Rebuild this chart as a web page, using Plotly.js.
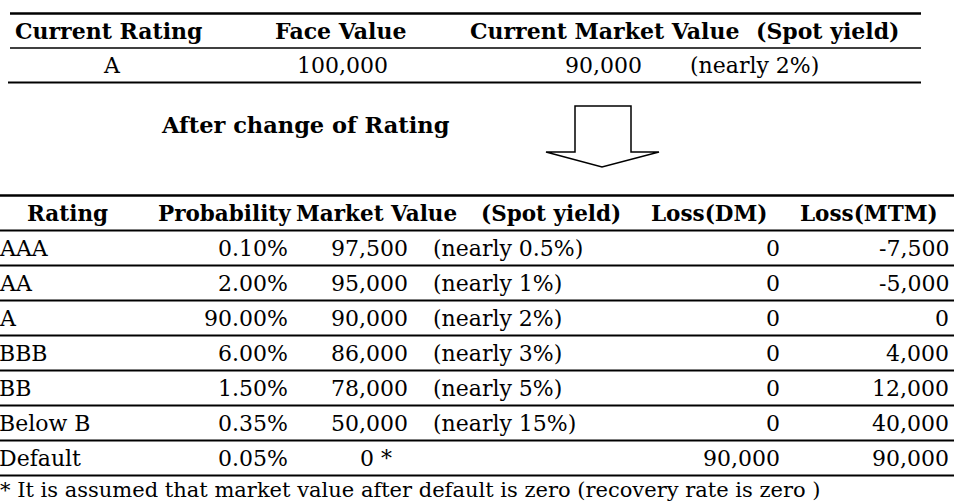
<!DOCTYPE html>
<html>
<head>
<meta charset="utf-8">
<script src="https://cdn.plot.ly/plotly-3.0.1.min.js"></script>
<style>
html,body{margin:0;padding:0;background:#fff;}
#chart{width:954px;height:502px;}
</style>
</head>
<body>
<div id="chart"></div>
<script>
// ---- data ----
var topHeaders = ["Current Rating", "Face Value", "Current Market Value", "(Spot yield)"];
var topValues = ["A", "100,000", "90,000", "(nearly 2%)"];
var afterTitle = "After change of Rating";
var headers = ["Rating", "Probability", "Market Value", "(Spot yield)", "Loss(DM)", "Loss(MTM)"];
var ratings = ["AAA", "AA", "A", "BBB", "BB", "Below B", "Default"];
var probability = [0.10, 2.00, 90.00, 6.00, 1.50, 0.35, 0.05];
var marketValue = [97500, 95000, 90000, 86000, 78000, 50000, 0];
var marketNote = ["", "", "", "", "", "", " *"];
var spotYield = ["(nearly 0.5%)", "(nearly 1%)", "(nearly 2%)", "(nearly 3%)", "(nearly 5%)", "(nearly 15%)", ""];
var lossDM = [0, 0, 0, 0, 0, 0, 90000];
var lossMTM = [-7500, -5000, 0, 4000, 12000, 40000, 90000];
var footnote = "* It is assumed that market value after default is zero (recovery rate is zero )";

// ---- styling / layout ----
var FONT = "DejaVu Serif";
var fmt = function (v) { return v.toLocaleString("en-US"); };

var annotations = [];
function addText(text, x, y, yref, anchor, size, bold, xshift, yanchor) {
  annotations.push({
    text: text, x: x, y: y, xref: "x", yref: yref,
    xanchor: anchor, yanchor: yanchor || "middle", showarrow: false,
    borderpad: 0, borderwidth: 0, xshift: xshift || 0,
    font: {family: FONT, size: size, color: "#000", weight: bold ? "bold" : "normal"}
  });
}

// top table (y2: row index)
var topHeaderX = [108, 340, 470, 756];
var topHeaderAnchor = ["center", "center", "left", "left"];
topHeaders.forEach(function (t, i) { addText(t, topHeaderX[i], 0, "y2", topHeaderAnchor[i], 22, true); });
var topValueX = [112, 342, 642, 690];
var topValueAnchor = ["center", "center", "right", "left"];
topValues.forEach(function (t, i) { addText(t, topValueX[i], 1, "y2", topValueAnchor[i], 22, false); });

// title between tables (y3: pixels)
addText(afterTitle, 305, 125, "y3", "center", 22.5, true);

// lower table (y: row index, header = -1)
var headerX = [67, 224, 376, 551, 709, 869];
headers.forEach(function (t, i) { addText(t, headerX[i], -1, "y", "center", 21.5, true); });
ratings.forEach(function (r, i) {
  addText(r, 0, i, "y", "left", 22, false, -1);
  addText(probability[i].toFixed(2) + "%", 288, i, "y", "right", 22, false);
  addText(fmt(marketValue[i]) + marketNote[i], 408, i, "y", "right", 22, false, marketNote[i] ? -16 : 0);
  if (spotYield[i]) addText(spotYield[i], 433, i, "y", "left", 22, false);
  addText(fmt(lossDM[i]), 780, i, "y", "right", 22, false);
  addText(fmt(lossMTM[i]), 949, i, "y", "right", 22, false);
});
// footnote sits in the strip below the last rule, kept inside the picture
addText(footnote, 0, 501.5, "y3", "left", 21, false, 0, "bottom");

// rules
var shapes = [];
function hline(y, yref, x0, x1, w) {
  shapes.push({type: "line", xref: "x", yref: yref, x0: x0, x1: x1, y0: y, y1: y,
    line: {color: "#000", width: w}});
}
hline(-0.5, "y2", 10, 921, 2.5);
hline(0.5, "y2", 10, 921, 1.5);
hline(1.5, "y2", 8, 921, 2);
hline(-1.5, "y", 0, 954, 2.5);
for (var k = -0.5; k <= ratings.length - 0.5; k += 1) hline(k, "y", 0, 954, 2);

// down arrow
shapes.push({type: "path", xref: "x", yref: "y3",
  path: "M575,106 L575,152 L546,152 L602,167 L659,152 L631,152 L631,106 Z",
  line: {color: "#000", width: 1.5}, fillcolor: "rgba(0,0,0,0)"});

var hidden = {visible: false, showgrid: false, zeroline: false, fixedrange: true};
var layout = {
  width: 954, height: 502,
  margin: {l: 0, r: 0, t: 0, b: 0},
  paper_bgcolor: "#fff", plot_bgcolor: "#fff",
  showlegend: false,
  xaxis: Object.assign({range: [0, 954]}, hidden),
  yaxis: Object.assign({range: [(502 - 248) / 35, -248 / 35]}, hidden),
  yaxis2: Object.assign({range: [(502 - 30.75) / 34.5, -30.75 / 34.5], overlaying: "y"}, hidden),
  yaxis3: Object.assign({range: [502, 0], overlaying: "y"}, hidden),
  annotations: annotations,
  shapes: shapes
};
var traces = [
  {type: "scatter", x: [], y: [], yaxis: "y", hoverinfo: "skip"},
  {type: "scatter", x: [], y: [], yaxis: "y2", hoverinfo: "skip"},
  {type: "scatter", x: [], y: [], yaxis: "y3", hoverinfo: "skip"}
];
Plotly.newPlot("chart", traces, layout, {staticPlot: true, displayModeBar: false});
</script>
</body>
</html>
